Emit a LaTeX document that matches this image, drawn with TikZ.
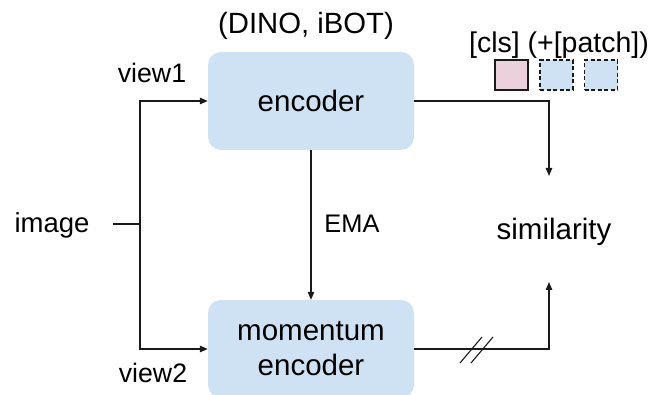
\documentclass[tikz,border=0pt]{standalone}
\usepackage{fontspec}
\setmainfont{Liberation Sans}
\usetikzlibrary{arrows.meta}
\definecolor{boxblue}{HTML}{CFE2F3}
\definecolor{clspink}{HTML}{EAD1DC}
\definecolor{ink}{HTML}{1A1A1A}

\begin{document}
\begin{tikzpicture}[x=1pt,y=-1pt,
  block/.style={fill=boxblue, rounded corners=13pt, minimum width=206pt,
    minimum height=98pt, inner sep=0pt, align=center,
    font=\fontsize{29.5}{35}\selectfont},
  conn/.style={line width=1.3pt, draw=ink},
  arr/.style={conn, -{Triangle[length=8pt,width=6.5pt]}},
  lbl/.style={inner sep=0pt, anchor=base, text=black},
  tok/.style={minimum width=33pt, minimum height=30pt, inner sep=0pt,
    line width=1.1pt, draw=ink},
  tokdash/.style={tok, fill=boxblue, dash pattern=on 4pt off 2.6pt}
]
\useasboundingbox (0,0) rectangle (657,395);

% encoders
\node[block] (enc) at (311,101) {encoder};
\node[block] (mom) at (311,349) {momentum\\encoder};

% labels
\node[lbl, font=\fontsize{29.3}{35}\selectfont] (dino) at (306,34) {(DINO, iBOT)};
\node[lbl, font=\fontsize{27.5}{33}\selectfont] (img) at (52,233) {image};
\node[lbl, font=\fontsize{26.7}{32}\selectfont] (v1) at (152,83) {view1};
\node[lbl, font=\fontsize{26.7}{32}\selectfont] (v2) at (153,383) {view2};
\node[lbl, font=\fontsize{25.4}{30}\selectfont] (ema) at (352,233) {EMA};
\node[lbl, font=\fontsize{29.5}{35}\selectfont] (sim) at (554,240) {similarity};
\node[lbl, font=\fontsize{28.5}{34}\selectfont] (clslbl) at (559,53) {[cls] (+[patch])};

% token squares
\node[tok, fill=clspink] (cls) at (511.5,75) {};
\node[tokdash] (p1) at (556.5,75) {};
\node[tokdash] (p2) at (601,75) {};

% arrow ends at the similarity label
\coordinate (simtop) at (549,176);
\coordinate (simbot) at (549,282);

% image split into two views
\coordinate (imgout) at (113,224);
\coordinate (split) at (140,224);
\draw[conn] (imgout) -- (split);
\draw[arr] (split) |- (enc.west);
\draw[arr] (split) |- (mom.west);

% EMA update
\draw[arr] (enc.south) -- (mom.north);

% outputs to similarity
\draw[arr] (enc.east) -| (simtop);
\draw[arr] (mom.east) -| (simbot);

% stop-gradient mark
\draw[conn, line width=1.1pt] (460,363) -- (482,337) (471,363) -- (493,337);
\end{tikzpicture}
\end{document}
